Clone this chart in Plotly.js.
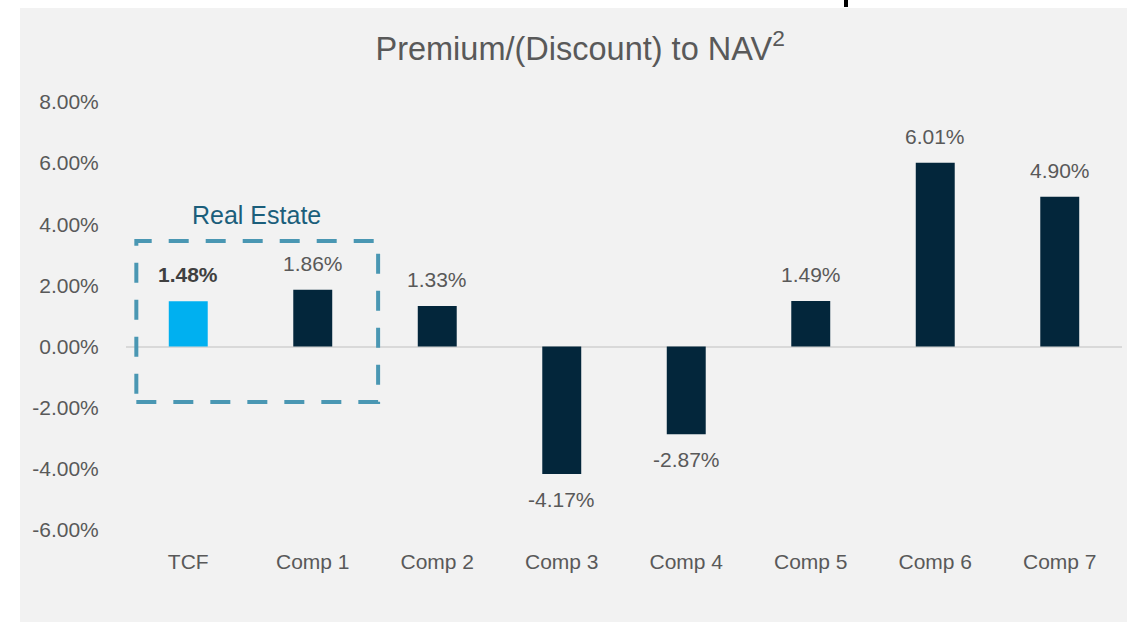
<!DOCTYPE html>
<html>
<head>
<meta charset="utf-8">
<script src="https://cdn.plot.ly/plotly-3.0.1.min.js"></script>
<style>
  html, body { margin: 0; padding: 0; background: #ffffff; width: 1127px; height: 622px; overflow: hidden; }
  #chart { position: absolute; left: 20px; top: 8px; width: 1107px; height: 614px; }
  #mark { position: absolute; left: 844px; top: 0px; width: 4px; height: 7px; background: #000; }
</style>
</head>
<body>
<div id="mark"></div>
<div id="chart"></div>
<script>
const categories = ["TCF", "Comp 1", "Comp 2", "Comp 3", "Comp 4", "Comp 5", "Comp 6", "Comp 7"];
const values = [0.0148, 0.0186, 0.0133, -0.0417, -0.0287, 0.0149, 0.0601, 0.0490];
const barColors = ["#00b0f0", "#03263b", "#03263b", "#03263b", "#03263b", "#03263b", "#03263b", "#03263b"];
const labelBold = [true, false, false, false, false, false, false, false];
const yTickVals = [-0.06, -0.04, -0.02, 0, 0.02, 0.04, 0.06, 0.08];
const yTickText = ["-6.00%", "-4.00%", "-2.00%", "0.00%", "2.00%", "4.00%", "6.00%", "8.00%"];

const FONT = "'Liberation Sans', Arial, sans-serif";

const trace = {
  type: "bar",
  x: categories,
  y: values,
  marker: { color: barColors, line: { width: 0 } },
  width: 0.313,
  hoverinfo: "skip"
};

const annotations = categories.map((c, i) => {
  const v = values[i];
  const txt = (v * 100).toFixed(2) + "%";
  return {
    x: c, y: v, xref: "x", yref: "y",
    text: labelBold[i] ? "<b>" + txt + "</b>" : txt,
    showarrow: false,
    yanchor: v >= 0 ? "bottom" : "top",
    yshift: v >= 0 ? 13 : -12,
    font: { family: FONT, size: 21, color: labelBold[i] ? "#404040" : "#595959" }
  };
});

annotations.push({
  x: 0.545, y: 0.043, xref: "x", yref: "y",
  text: "Real Estate", showarrow: false,
  xanchor: "center", yanchor: "middle",
  font: { family: FONT, size: 25, color: "#1b5e7b" }
});

const layout = {
  width: 1107, height: 614,
  paper_bgcolor: "#f2f2f2",
  plot_bgcolor: "#f2f2f2",
  margin: { l: 106, r: 5, t: 94, b: 92 },
  showlegend: false,
  title: {
    text: "Premium/(Discount) to NAV<sup>2</sup>",
    x: 0.506, xref: "container", xanchor: "center",
    y: 0.934, yref: "container", yanchor: "middle",
    font: { family: FONT, size: 32.5, color: "#595959" }
  },
  xaxis: {
    type: "category",
    range: [-0.5, 7.5],
    showgrid: false, zeroline: false, showline: false,
    ticks: "outside", ticklen: 13, tickcolor: "rgba(0,0,0,0)",
    tickfont: { family: FONT, size: 21, color: "#595959" },
    fixedrange: true
  },
  yaxis: {
    range: [-0.06, 0.08],
    tickmode: "array",
    tickvals: yTickVals,
    ticktext: yTickText,
    showgrid: false,
    zeroline: true, zerolinecolor: "#d9d9d9", zerolinewidth: 2,
    showline: false,
    ticks: "outside", ticklen: 22, tickcolor: "rgba(0,0,0,0)",
    tickfont: { family: FONT, size: 21, color: "#595959" },
    fixedrange: true
  },
  annotations: annotations,
  shapes: [{
    type: "rect", xref: "x", yref: "y",
    x0: -0.417, x1: 1.525, y0: -0.0181, y1: 0.0345,
    line: { color: "#4a97b3", width: 4, dash: "20px,17px" },
    fillcolor: "rgba(0,0,0,0)",
    layer: "above"
  }]
};

Plotly.newPlot("chart", [trace], layout, { displayModeBar: false, staticPlot: true });
</script>
</body>
</html>
